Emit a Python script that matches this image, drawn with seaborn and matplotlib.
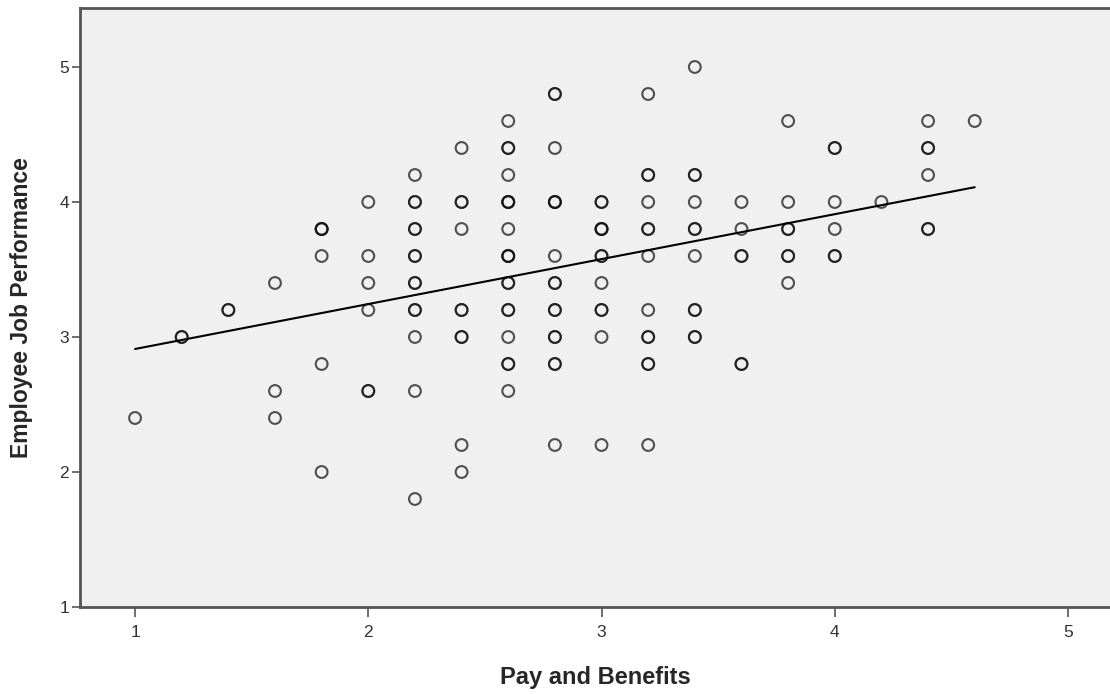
import pandas as pd
import matplotlib
matplotlib.use('Agg')
import matplotlib.pyplot as plt
import seaborn as sns

# values (repeated pairs = overlapping circles)
pay_benefits = (
    [1.0] + [1.2] * 2 + [1.4] * 2 + [1.6] * 3 + [1.8] * 6 + [2.0] * 6
    + [2.2] * 14 + [2.4] * 10 + [2.6] * 19 + [2.8] * 16 + [3.0] * 12
    + [3.2] * 13 + [3.4] * 11 + [3.6] * 6 + [3.8] * 7 + [4.0] * 6
    + [4.2] + [4.4] * 6 + [4.6]
)
job_performance = [
    2.4,
    3.0, 3.0,
    3.2, 3.2,
    3.4, 2.6, 2.4,
    3.8, 3.8, 3.8, 3.6, 2.8, 2.0,
    4.0, 3.6, 3.4, 3.2, 2.6, 2.6,
    4.2, 4.0, 4.0, 3.8, 3.8, 3.6, 3.6, 3.4, 3.4, 3.2, 3.2, 3.0, 2.6, 1.8,
    4.4, 4.0, 4.0, 3.8, 3.2, 3.2, 3.0, 3.0, 2.2, 2.0,
    4.6, 4.4, 4.4, 4.2, 4.0, 4.0, 4.0, 3.8, 3.6, 3.6, 3.6, 3.4, 3.4, 3.2, 3.2, 3.0, 2.8, 2.8, 2.6,
    4.8, 4.8, 4.4, 4.0, 4.0, 4.0, 3.6, 3.4, 3.4, 3.2, 3.2, 3.0, 3.0, 2.8, 2.8, 2.2,
    4.0, 4.0, 3.8, 3.8, 3.8, 3.6, 3.6, 3.4, 3.2, 3.2, 3.0, 2.2,
    4.8, 4.2, 4.2, 4.0, 3.8, 3.8, 3.6, 3.2, 3.0, 3.0, 2.8, 2.8, 2.2,
    5.0, 4.2, 4.2, 4.0, 3.8, 3.8, 3.6, 3.2, 3.2, 3.0, 3.0,
    4.0, 3.8, 3.6, 3.6, 2.8, 2.8,
    4.6, 4.0, 3.8, 3.8, 3.6, 3.6, 3.4,
    4.4, 4.4, 4.0, 3.8, 3.6, 3.6,
    4.0,
    4.6, 4.4, 4.4, 4.2, 3.8, 3.8,
    4.6,
]
x_label = 'Pay and Benefits'
y_label = 'Employee Job Performance'
x_ticks = [1, 2, 3, 4, 5]
y_ticks = [1, 2, 3, 4, 5]

df = pd.DataFrame({'pay': pay_benefits, 'perf': job_performance})

sns.set_style('ticks', {'axes.facecolor': '#f0f0f0'})
plt.rcParams['font.family'] = ['Liberation Sans', 'DejaVu Sans']

fig = plt.figure(figsize=(11.1, 6.94), dpi=100)
ax = fig.add_axes([80 / 1110, 87 / 694, 1030 / 1110, 599 / 694])

sns.regplot(data=df, x='pay', y='perf', ax=ax, ci=None, truncate=True,
            scatter_kws={'s': 72, 'facecolors': 'none', 'edgecolors': '#111111',
                         'linewidths': 1.5, 'alpha': 0.72},
            line_kws={'color': 'black', 'lw': 1.5})

ax.set_xlim(0.764, 5.18)
ax.set_ylim(1, 5.437)
ax.set_xticks(x_ticks)
ax.set_yticks(y_ticks)

for side in ['left', 'top', 'bottom']:
    ax.spines[side].set_color('#555555')
    ax.spines[side].set_linewidth(2)
ax.spines['right'].set_visible(False)
ax.tick_params(axis='x', length=7, width=1.2, color='#555555', labelsize=12.5,
               labelcolor='#333333', pad=6)
ax.tick_params(axis='y', length=6, width=1.2, color='#555555', labelsize=12.5,
               labelcolor='#333333', pad=2)

ax.set_xlabel(x_label, fontsize=17, fontweight='bold', labelpad=19)
ax.set_ylabel(y_label, fontsize=16.5, fontweight='bold', labelpad=19)

plt.savefig('out.png', dpi=100)
